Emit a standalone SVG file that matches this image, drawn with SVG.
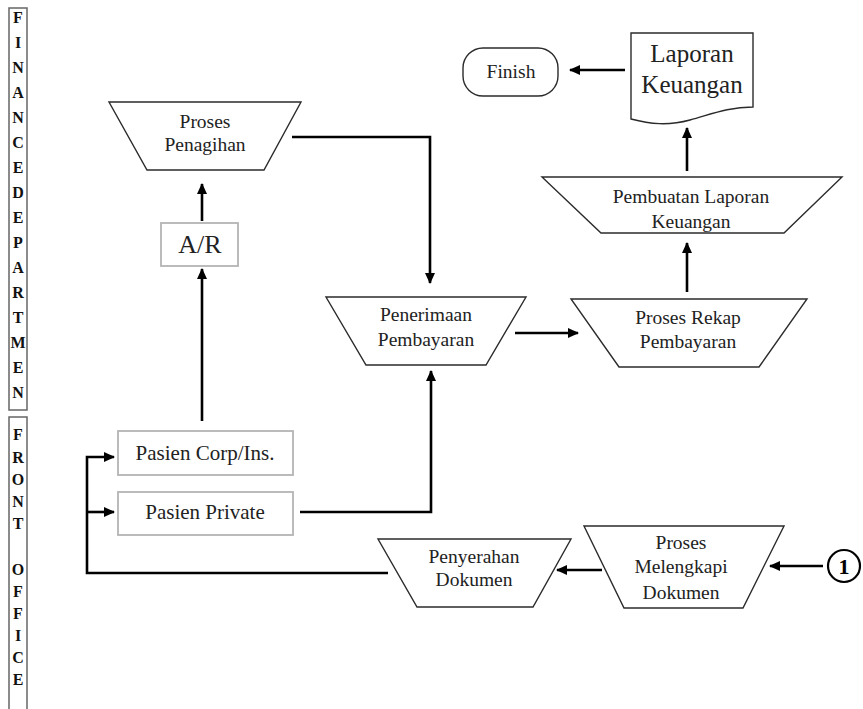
<svg xmlns="http://www.w3.org/2000/svg" width="863" height="709" viewBox="0 0 863 709">
<style>
.shape{fill:#fff;stroke:#2b2b2b;stroke-width:1.4}
.gbox{fill:#fff;stroke:#b4b4b4;stroke-width:1.8}
.t{font-family:"Liberation Serif","Times New Roman",serif;font-size:19.5px;fill:#222;text-anchor:middle}
.side{font-family:"Liberation Serif","Times New Roman",serif;font-size:16px;font-weight:bold;fill:#111;text-anchor:middle}
.lane{fill:#fff;stroke:#666;stroke-width:1.5}
.c{fill:none;stroke:#000;stroke-width:2.6}
</style>
<defs>
<marker id="ah" markerUnits="userSpaceOnUse" markerWidth="12" markerHeight="10" refX="10" refY="5" orient="auto">
<path d="M0,0 L11,5 L0,10 Z" fill="#000"/>
</marker>
</defs>
<rect width="863" height="709" fill="#fff"/>

<g id="lane-finance">
<rect class="lane" x="9" y="8" width="18" height="402"/>
<text class="side" x="18" y="23">F</text>
<text class="side" x="18" y="48">I</text>
<text class="side" x="18" y="73">N</text>
<text class="side" x="18" y="98">A</text>
<text class="side" x="18" y="123">N</text>
<text class="side" x="18" y="148">C</text>
<text class="side" x="18" y="173">E</text>
<text class="side" x="18" y="198">D</text>
<text class="side" x="18" y="223">E</text>
<text class="side" x="18" y="248">P</text>
<text class="side" x="18" y="273">A</text>
<text class="side" x="18" y="298">R</text>
<text class="side" x="18" y="323">T</text>
<text class="side" x="18" y="348">M</text>
<text class="side" x="18" y="373">E</text>
<text class="side" x="18" y="398">N</text>
</g>
<g id="lane-front">
<rect class="lane" x="9" y="417" width="18" height="300"/>
<text class="side" x="18" y="440">F</text>
<text class="side" x="18" y="463">R</text>
<text class="side" x="18" y="485">O</text>
<text class="side" x="18" y="507">N</text>
<text class="side" x="18" y="529">T</text>
<text class="side" x="18" y="575">O</text>
<text class="side" x="18" y="597">F</text>
<text class="side" x="18" y="619">F</text>
<text class="side" x="18" y="641">I</text>
<text class="side" x="18" y="663">C</text>
<text class="side" x="18" y="685">E</text>
</g>

<g id="connectors">
<line class="c" x1="202" y1="221" x2="202" y2="184" marker-end="url(#ah)"/>
<line class="c" x1="202" y1="421" x2="202" y2="269" marker-end="url(#ah)"/>
<polyline class="c" points="292,137 430,137 430,283" marker-end="url(#ah)"/>
<polyline class="c" points="300,512 431,512 431,371" marker-end="url(#ah)"/>
<line class="c" x1="515" y1="333" x2="578" y2="333" marker-end="url(#ah)"/>
<line class="c" x1="687" y1="292" x2="687" y2="243" marker-end="url(#ah)"/>
<line class="c" x1="687" y1="171" x2="687" y2="128" marker-end="url(#ah)"/>
<line class="c" x1="625" y1="70" x2="570" y2="70" marker-end="url(#ah)"/>
<line class="c" x1="823" y1="566" x2="770" y2="566" marker-end="url(#ah)"/>
<line class="c" x1="602" y1="570" x2="557" y2="570" marker-end="url(#ah)"/>
<polyline class="c" points="388,573 87,573 87,457 114,457" marker-end="url(#ah)"/>
<line class="c" x1="87" y1="512" x2="114" y2="512" marker-end="url(#ah)"/>
</g>

<g id="proses-penagihan">
<polygon class="shape" points="109,102 301,102 264,170 147,170"/>
<text class="t" x="205" y="128">Proses</text>
<text class="t" x="205" y="151">Penagihan</text>
</g>
<g id="ar">
<rect class="gbox" x="161" y="223" width="77" height="43"/>
<text class="t" x="200" y="253" style="font-size:26px">A/R</text>
</g>
<g id="penerimaan-pembayaran">
<polygon class="shape" points="326,297 526,297 486,365 366,365"/>
<text class="t" x="426" y="321">Penerimaan</text>
<text class="t" x="426" y="346">Pembayaran</text>
</g>
<g id="proses-rekap">
<polygon class="shape" points="571,299 807,299 759,367 619,367"/>
<text class="t" x="688" y="324">Proses Rekap</text>
<text class="t" x="688" y="348">Pembayaran</text>
</g>
<g id="pembuatan-laporan">
<polygon class="shape" points="542,177 842,177 784,233 601,233"/>
<text class="t" x="691" y="203">Pembuatan Laporan</text>
<text class="t" x="691" y="228">Keuangan</text>
</g>
<g id="laporan-keuangan">
<path class="shape" d="M631,33 L753,33 L753,107 C728,107 712,114 690,120 C668,126 650,124 631,119 Z"/>
<text class="t" x="692" y="62" style="font-size:25px">Laporan</text>
<text class="t" x="692" y="93" style="font-size:25px">Keuangan</text>
</g>
<g id="finish">
<rect class="shape" x="463" y="48" width="95" height="48" rx="20" ry="20"/>
<text class="t" x="511" y="78">Finish</text>
</g>
<g id="pasien-corp">
<rect class="gbox" x="118" y="431" width="175" height="44"/>
<text class="t" x="205" y="460" style="font-size:21px">Pasien Corp/Ins.</text>
</g>
<g id="pasien-private">
<rect class="gbox" x="118" y="492" width="175" height="43"/>
<text class="t" x="205" y="519" style="font-size:21px">Pasien Private</text>
</g>
<g id="penyerahan-dokumen">
<polygon class="shape" points="378,539 571,539 533,607 417,607"/>
<text class="t" x="474" y="563">Penyerahan</text>
<text class="t" x="474" y="586">Dokumen</text>
</g>
<g id="proses-melengkapi">
<polygon class="shape" points="584,526 784,526 743,608 624,608"/>
<text class="t" x="681" y="549">Proses</text>
<text class="t" x="681" y="573">Melengkapi</text>
<text class="t" x="681" y="599">Dokumen</text>
</g>
<g id="connector-1">
<circle cx="844" cy="566" r="16" fill="#fff" stroke="#000" stroke-width="2.2"/>
<text x="844" y="574" style="font-family:'Liberation Serif','Times New Roman',serif;font-size:22px;font-weight:bold;text-anchor:middle;fill:#000">1</text>
</g>
</svg>
